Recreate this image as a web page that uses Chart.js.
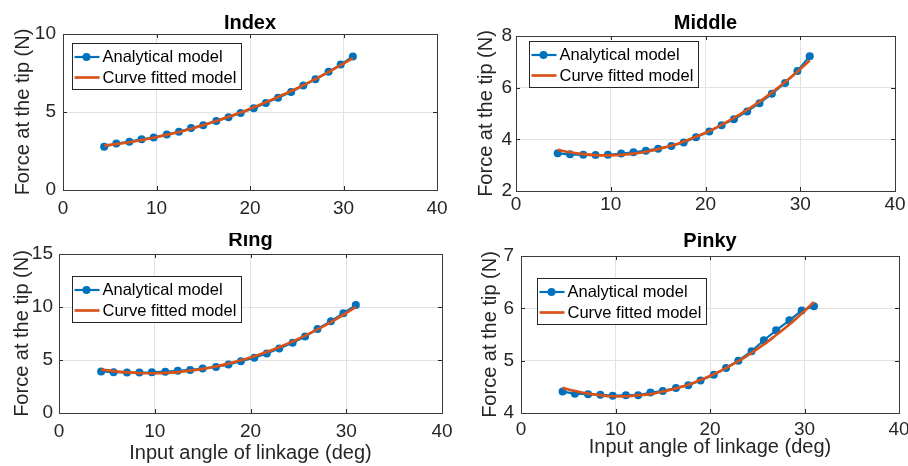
<!DOCTYPE html>
<html>
<head>
<meta charset="utf-8">
<script src="https://cdn.jsdelivr.net/npm/chart.js@4.4.1/dist/chart.umd.min.js"></script>
<style>
  html, body { margin: 0; padding: 0; background: #fff; }
  body { width: 908px; height: 466px; position: relative; overflow: hidden; }
  canvas { position: absolute; }
</style>
</head>
<body>
<canvas id="index" width="454" height="233" style="left:0;top:0"></canvas>
<canvas id="middle" width="454" height="233" style="left:454px;top:0"></canvas>
<canvas id="ring" width="454" height="233" style="left:0;top:233px"></canvas>
<canvas id="pinky" width="454" height="233" style="left:454px;top:233px"></canvas>
<script>
// input angle of the linkage (deg), shared by all four fingers
const angle = [4.4, 5.7, 7.1, 8.4, 9.7, 11.1, 12.4, 13.7, 15.0, 16.4, 17.7, 19.0, 20.4, 21.7, 23.0, 24.4, 25.7, 27.0, 28.4, 29.7, 31.0];

// force at the tip (N): analytical model and curve fit
const indexModel = [2.78, 2.98, 3.10, 3.25, 3.36, 3.56, 3.73, 3.97, 4.15, 4.43, 4.66, 4.94, 5.24, 5.58, 5.92, 6.28, 6.70, 7.10, 7.58, 8.04, 8.56];
const indexFit = [2.84, 2.94, 3.06, 3.20, 3.35, 3.53, 3.72, 3.93, 4.16, 4.42, 4.69, 4.97, 5.30, 5.62, 5.96, 6.34, 6.72, 7.12, 7.56, 8.00, 8.45];

const middleModel = [3.46, 3.42, 3.40, 3.39, 3.40, 3.45, 3.50, 3.56, 3.64, 3.74, 3.88, 4.08, 4.30, 4.55, 4.78, 5.08, 5.40, 5.76, 6.18, 6.65, 7.22];
const middleFit = [3.59, 3.50, 3.43, 3.39, 3.38, 3.40, 3.45, 3.52, 3.62, 3.76, 3.91, 4.10, 4.32, 4.56, 4.83, 5.14, 5.46, 5.81, 6.22, 6.62, 7.05];

const ringModel = [3.92, 3.85, 3.82, 3.82, 3.84, 3.90, 3.98, 4.06, 4.20, 4.35, 4.58, 4.88, 5.22, 5.62, 6.08, 6.62, 7.22, 7.92, 8.66, 9.42, 10.18];
const ringFit = [4.10, 3.95, 3.83, 3.77, 3.75, 3.79, 3.86, 3.99, 4.16, 4.39, 4.66, 4.97, 5.36, 5.76, 6.21, 6.75, 7.30, 7.89, 8.58, 9.27, 10.00];

const pinkyModel = [4.41, 4.37, 4.36, 4.35, 4.33, 4.34, 4.34, 4.39, 4.42, 4.48, 4.53, 4.62, 4.73, 4.86, 5.00, 5.18, 5.39, 5.58, 5.77, 5.96, 6.04];
const pinkyFit = [4.48, 4.42, 4.37, 4.34, 4.32, 4.32, 4.34, 4.36, 4.41, 4.47, 4.54, 4.63, 4.74, 4.86, 4.99, 5.15, 5.31, 5.49, 5.69, 5.90, 6.12];

// tick labels
const xTicks = [0, 10, 20, 30, 40];
const indexTicks = [0, 5, 10];
const middleTicks = [2, 4, 6, 8];
const ringTicks = [0, 5, 10, 15];
const pinkyTicks = [4, 5, 6, 7];

const seriesNames = ['Analytical model', 'Curve fitted model'];
const xLabel = 'Input angle of linkage (deg)';
const yLabel = 'Force at the tip (N)';

const FONT = "'Liberation Sans', Arial, Helvetica, sans-serif";
const BLUE = '#0072BD';
const RED = '#D95319';
Chart.defaults.font.family = FONT;

// MATLAB-like axes box, inward ticks, title and legend
const axesDecor = {
  id: 'axesDecor',
  afterDraw(chart, args, opts) {
    const {ctx, chartArea: a, scales} = chart;
    ctx.save();

    // inward tick marks on all four sides
    ctx.strokeStyle = '#262626';
    ctx.lineWidth = 1;
    ctx.beginPath();
    scales.x.ticks.forEach(t => {
      const px = Math.round(scales.x.getPixelForValue(t.value)) + 0.5;
      ctx.moveTo(px, a.bottom); ctx.lineTo(px, a.bottom - 4);
      ctx.moveTo(px, a.top); ctx.lineTo(px, a.top + 4);
    });
    scales.y.ticks.forEach(t => {
      const py = Math.round(scales.y.getPixelForValue(t.value)) + 0.5;
      ctx.moveTo(a.left, py); ctx.lineTo(a.left + 4, py);
      ctx.moveTo(a.right, py); ctx.lineTo(a.right - 4, py);
    });
    ctx.stroke();

    ctx.strokeStyle = '#3a3a3a';
    ctx.strokeRect(Math.round(a.left) + 0.5, Math.round(a.top) + 0.5,
                   Math.round(a.right - a.left), Math.round(a.bottom - a.top));

    // title
    ctx.fillStyle = '#000';
    ctx.font = 'bold 20px ' + FONT;
    ctx.textAlign = 'center';
    ctx.textBaseline = 'alphabetic';
    ctx.fillText(opts.title, (a.left + a.right) / 2, a.top - opts.titleGap);

    // legend box
    const bx = Math.round(a.left + opts.legendX) + 0.5;
    const by = Math.round(a.top + opts.legendY) + 0.5;
    const bw = 169, bh = 46;
    ctx.fillStyle = '#fff';
    ctx.fillRect(bx, by, bw, bh);
    ctx.strokeStyle = '#262626';
    ctx.lineWidth = 1;
    ctx.strokeRect(bx, by, bw, bh);

    ctx.font = '16.5px ' + FONT;
    ctx.textAlign = 'left';
    ctx.textBaseline = 'middle';
    chart.data.datasets.forEach((ds, i) => {
      const ry = by + 13.5 + i * 20.5;
      ctx.strokeStyle = ds.borderColor;
      ctx.lineWidth = ds.borderWidth;
      ctx.beginPath();
      ctx.moveTo(bx + 2, ry);
      ctx.lineTo(bx + 27, ry);
      ctx.stroke();
      if (ds.pointRadius > 0) {
        ctx.fillStyle = ds.pointBackgroundColor;
        ctx.beginPath();
        ctx.arc(bx + 14, ry, ds.pointRadius, 0, Math.PI * 2);
        ctx.fill();
      }
      ctx.fillStyle = '#000';
      ctx.fillText(ds.label, bx + 30, ry + 0.5);
    });

    ctx.restore();
  }
};

function makePanel(id, title, yTicks, model, fit, box) {
  const tickFont = {size: 19, family: FONT};
  const labelFont = {size: 20, family: FONT};
  const toPoints = ys => angle.map((x, i) => ({x: x, y: ys[i]}));

  new Chart(document.getElementById(id), {
    type: 'line',
    data: {
      datasets: [
        {
          label: seriesNames[0],
          data: toPoints(model),
          borderColor: BLUE,
          borderWidth: 2.2,
          pointRadius: 4,
          pointBackgroundColor: BLUE,
          pointBorderWidth: 0,
          tension: 0,
          order: 1
        },
        {
          label: seriesNames[1],
          data: toPoints(fit),
          borderColor: RED,
          borderWidth: 2.7,
          pointRadius: 0,
          tension: 0.35,
          order: 0
        }
      ]
    },
    options: {
      responsive: false,
      animation: false,
      devicePixelRatio: 1,
      events: [],
      layout: {padding: {left: 0, top: box.top, right: box.right, bottom: 0}},
      plugins: {
        legend: {display: false},
        tooltip: {enabled: false},
        axesDecor: {title: title, titleGap: box.titleGap, legendX: box.legendX, legendY: box.legendY}
      },
      scales: {
        x: {
          type: 'linear',
          min: xTicks[0],
          max: xTicks[xTicks.length - 1],
          afterBuildTicks: s => { s.ticks = xTicks.map(v => ({value: v})); },
          afterFit: s => { s.height = box.xHeight; s.paddingLeft = 0; s.paddingRight = 0; },
          grid: {color: '#e2e2e2', drawTicks: false},
          border: {display: false},
          ticks: {font: tickFont, color: '#262626', padding: box.xTickPad, maxRotation: 0},
          title: {display: box.xTitle, text: xLabel, font: labelFont, color: '#262626',
                  padding: {top: 0, bottom: box.xTitlePad}}
        },
        y: {
          type: 'linear',
          min: yTicks[0],
          max: yTicks[yTicks.length - 1],
          afterBuildTicks: s => { s.ticks = yTicks.map(v => ({value: v})); },
          afterFit: s => { s.width = box.left; },
          grid: {color: '#e2e2e2', drawTicks: false},
          border: {display: false},
          ticks: {font: tickFont, color: '#262626', padding: box.yTickPad},
          title: {display: true, text: yLabel, font: labelFont, color: '#262626',
                  padding: {top: box.yTitlePad, bottom: 0}}
        }
      }
    },
    plugins: [axesDecor]
  });
}

makePanel('index', 'Index', indexTicks, indexModel, indexFit,
  {left: 63, right: 17, top: 34, xHeight: 43, xTickPad: 7, xTitle: false, xTitlePad: 0,
   yTickPad: 7, yTitlePad: 11, titleGap: 5.5, legendX: 9, legendY: 9});
makePanel('middle', 'Middle', middleTicks, middleModel, middleFit,
  {left: 62, right: 13, top: 36, xHeight: 42, xTickPad: 2, xTitle: false, xTitlePad: 0,
   yTickPad: 4, yTitlePad: 20, titleGap: 7.5, legendX: 13, legendY: 5});
makePanel('ring', 'Ring', ringTicks, ringModel, ringFit,
  {left: 59, right: 12, top: 21, xHeight: 53, xTickPad: 7, xTitle: true, xTitlePad: 1,
   yTickPad: 6, yTitlePad: 10, titleGap: 8, legendX: 13, legendY: 22});
makePanel('pinky', 'Pinky', pinkyTicks, pinkyModel, pinkyFit,
  {left: 67, right: 9, top: 23, xHeight: 53, xTickPad: 5, xTitle: true, xTitlePad: 7,
   yTickPad: 7, yTitlePad: 24, titleGap: 9.5, legendX: 16, legendY: 22});
</script>
</body>
</html>
